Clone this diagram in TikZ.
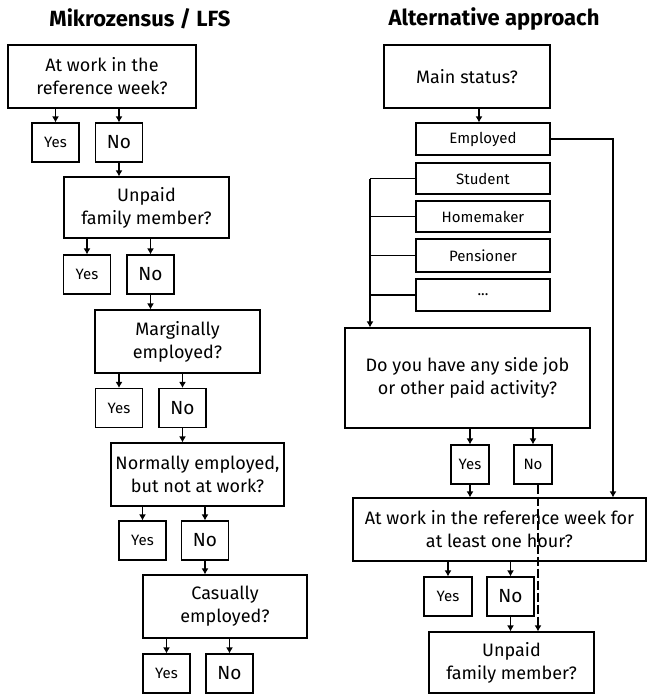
\documentclass[tikz,border=0pt]{standalone}
\usepackage{fontspec}
\setmainfont{Fira Sans}
\usetikzlibrary{arrows.meta}
\tikzset{
  qbox/.style={draw, line width=1.1pt, inner sep=0pt, align=center, font=\fontsize{18}{23}\selectfont},
  ansbox/.style={draw, line width=1.1pt, inner sep=0pt, minimum width=47pt, minimum height=39pt},
  yesbox/.style={ansbox, font=\fontsize{15}{18}\selectfont},
  nobox/.style={ansbox, font=\fontsize{19}{22}\selectfont},
  catbox/.style={draw, line width=1.1pt, inner sep=0pt, minimum width=134pt, font=\fontsize{15}{18}\selectfont},
  arr/.style={line width=1.8pt, -{Latex[length=6pt,width=7pt]}},
  ln/.style={line width=1.8pt},
  ttl/.style={font=\fontsize{22}{26}\selectfont\bfseries}
}
\begin{document}
\begin{tikzpicture}[x=1pt,y=-1pt]
\useasboundingbox (0,0) rectangle (647,694);
% titles
\node[ttl] (t1) at (140,19) {Mikrozensus / LFS};
\node[ttl] (t2) at (494,19) {Alternative approach};
% left column
\node[qbox, minimum width=188pt, minimum height=63pt] (b1) at (102,76.5) {At work in the\\reference week?};
\node[yesbox] (y1) at (55.5,142.5) {Yes};
\node[nobox] (n1) at (119,142.5) {No};
\node[qbox, minimum width=165pt, minimum height=61pt] (b2) at (146.5,207.5) {Unpaid\\family member?};
\node[yesbox] (y2) at (87,274.5) {Yes};
\node[nobox] (n2) at (150.5,274.5) {No};
\node[qbox, minimum width=165pt, minimum height=63pt] (b3) at (177.5,341.5) {Marginally\\employed?};
\node[yesbox] (y3) at (119,408) {Yes};
\node[nobox] (n3) at (182.5,408) {No};
\node[qbox, minimum width=173pt, minimum height=63pt] (b4) at (197.5,474.5) {Normally employed,\\but not at work?};
\node[yesbox] (y4) at (142.5,540.5) {Yes};
\node[nobox] (n4) at (205,540.5) {No};
\node[qbox, minimum width=164pt, minimum height=63pt] (b5) at (225,606.5) {Casually\\employed?};
\node[yesbox] (y5) at (166.5,673.5) {Yes};
\node[nobox] (n5) at (229.5,673.5) {No};
\foreach \b/\y/\n in {b1/y1/n1, b2/y2/n2, b3/y3/n3, b4/y4/n4, b5/y5/n5}{
  \draw[arr] (\b.south -| \y.north) -- (\y.north);
  \draw[arr] (\b.south -| \n.north) -- (\n.north);
}
\draw[arr] (n1.south) -- (n1.south |- b2.north);
\draw[arr] (n2.south) -- (n2.south |- b3.north);
\draw[arr] (n3.south) -- (n3.south |- b4.north);
\draw[arr] (n4.south) -- (n4.south |- b5.north);
% right column
\node[qbox, minimum width=166pt, minimum height=63pt] (ms) at (467,76.5) {Main status?};
\node[catbox, minimum height=32pt] (emp) at (483,139) {Employed};
\node[catbox, minimum height=31pt] (stu) at (483,178.5) {Student};
\node[catbox, minimum height=31pt] (hom) at (483,216.5) {Homemaker};
\node[catbox, minimum height=33pt] (pen) at (483,255.5) {Pensioner};
\node[catbox, minimum height=32pt] (dots) at (483,295) {...};
\node[qbox, minimum width=245pt, minimum height=100pt] (big) at (467.5,378) {Do you have any side job\\or other paid activity?};
\node[yesbox, minimum width=38pt] (y6) at (470,464.5) {Yes};
\node[yesbox, minimum width=38pt] (n6) at (533,464.5) {No};
\node[qbox, minimum width=293pt, minimum height=63pt] (aw) at (499.5,529.5) {At work in the reference week for\\at least one hour?};
\node[yesbox, minimum width=48pt] (y7) at (448,596.5) {Yes};
\node[nobox, minimum width=47pt] (n7) at (510.5,596.5) {No};
\node[qbox, minimum width=165pt, minimum height=61pt] (unp) at (511.5,662.5) {Unpaid\\family member?};
\coordinate (brk) at (370,178.5);
\coordinate (empc) at (613,139);
\draw[arr] ([xshift=12pt]ms.south) -- ([xshift=12pt]ms.south |- emp.north);
\draw[ln] (stu.west) -- (brk);
\draw[ln] (hom.west) -- (hom.west -| brk);
\draw[ln] (pen.west) -- (pen.west -| brk);
\draw[ln] (dots.west) -- (dots.west -| brk);
\draw[arr, line width=2.4pt] (brk) -- (brk |- big.north);
\draw[arr] (emp.east) -- (empc) -- (empc |- aw.north);
\draw[arr] (big.south -| y6.north) -- (y6.north);
\draw[arr] (big.south -| n6.north) -- (n6.north);
\draw[arr] (y6.south) -- (y6.south |- aw.north);
\draw[arr] (aw.south -| y7.north) -- (y7.north);
\draw[arr] (aw.south -| n7.north) -- (n7.north);
\draw[arr] (n7.south) -- (n7.south |- unp.north);
\draw[arr, dash pattern=on 9pt off 3pt] ([xshift=5pt]n6.south) -- ([xshift=5pt]n6.south |- unp.north);
\end{tikzpicture}
\end{document}
